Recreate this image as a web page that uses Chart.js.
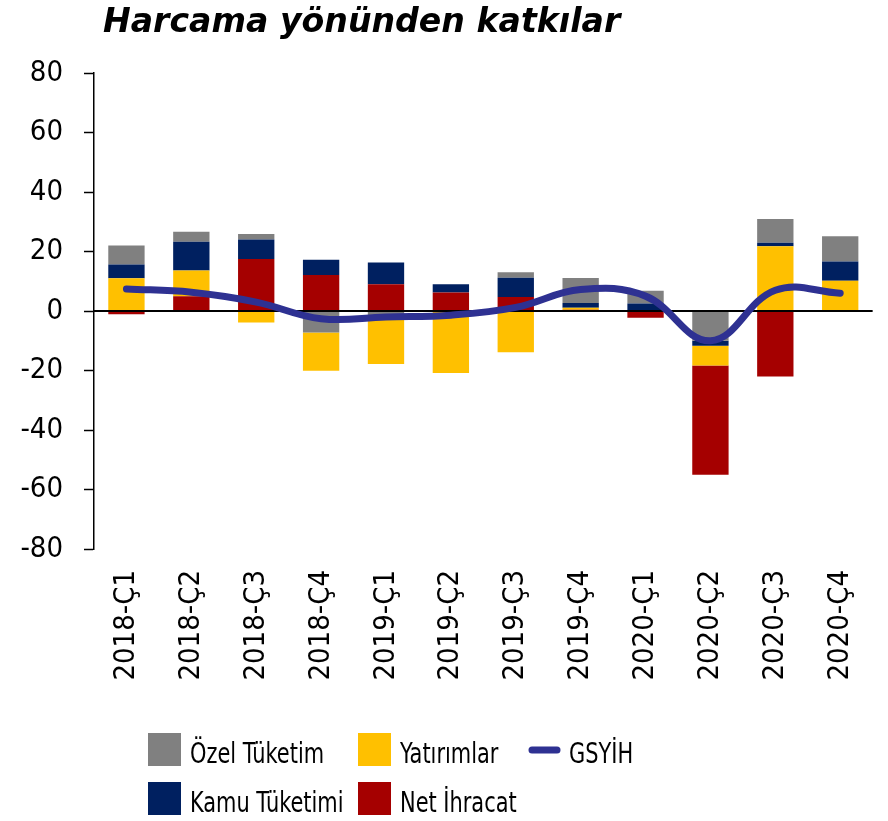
<!DOCTYPE html>
<html><head><meta charset="utf-8">
<script src="https://cdn.jsdelivr.net/npm/chart.js@4"></script>
<style>html,body{margin:0;padding:0;background:#fff;}canvas{display:block}</style>
</head><body>
<canvas id="c" width="888" height="821"></canvas>
<script>
const categories = ['2018-Ç1','2018-Ç2','2018-Ç3','2018-Ç4','2019-Ç1','2019-Ç2','2019-Ç3','2019-Ç4','2020-Ç1','2020-Ç2','2020-Ç3','2020-Ç4'];
const ozelTuketim = [6.4, 3.3, 1.9, -7.2, -3.0, 0, 1.8, 8.4, 4.3, -10.0, 8.0, 8.5];
const kamuTuketimi = [4.6, 9.7, 6.5, 5.1, 7.3, 2.8, 6.5, 1.6, 2.5, -1.7, 1.1, 6.4];
const yatirimlar = [11.0, 8.6, -3.9, -12.9, -14.8, -20.8, -13.9, 0.7, 0, -6.6, 21.8, 10.2];
const netIhracat = [-1.1, 5.0, 17.5, 12.1, 9.0, 6.2, 4.7, 0.4, -2.3, -36.7, -22.0, 0];
const gsyih = [7.4, 6.3, 3.0, -2.6, -2.0, -1.4, 1.2, 7.2, 5.0, -10.0, 7.0, 6.0];
const yTicks = [80, 60, 40, 20, 0, -20, -40, -60, -80];
const titleText = 'Harcama yönünden katkılar';
const names = {ozel:'Özel Tüketim', kamu:'Kamu Tüketimi', yat:'Yatırımlar', net:'Net İhracat', gdp:'GSYİH'};
const colors = {ozel:'#808080', kamu:'#002060', yat:'#FFC000', net:'#A50000', gdp:'#2E3192'};

const FONT = "'DejaVu Sans Condensed','DejaVu Sans',sans-serif";
const TITLE_FONT = "'DejaVu Sans',sans-serif";
const pos = a => a.map(v => v > 0 ? v : null);
const neg = a => a.map(v => v < 0 ? v : null);
const bar = (label, data, color, order) => ({type:'bar', label, data, backgroundColor: color, borderWidth: 0, stack: 'c', order, categoryPercentage: 1, barPercentage: 0.56});

const datasets = [
  bar(names.net, pos(netIhracat), colors.net, 1),
  bar(names.yat, pos(yatirimlar), colors.yat, 2),
  bar(names.kamu, pos(kamuTuketimi), colors.kamu, 3),
  bar(names.ozel, pos(ozelTuketim), colors.ozel, 4),
  bar(names.ozel, neg(ozelTuketim), colors.ozel, 5),
  bar(names.kamu, neg(kamuTuketimi), colors.kamu, 6),
  bar(names.yat, neg(yatirimlar), colors.yat, 7),
  bar(names.net, neg(netIhracat), colors.net, 8),
  {type:'line', label: names.gdp, data: gsyih, borderColor: colors.gdp, borderWidth: 7, pointRadius: 0, tension: 0.4, stack: 'gdp', order: 0, borderCapStyle: 'round', borderJoinStyle: 'round', fill: false}
];

const zeroLine = {
  id: 'zeroLine',
  beforeDatasetDraw(chart, args) {
    if (chart.data.datasets[args.index].type !== 'line') return;
    const y = chart.scales.y.getPixelForValue(0);
    const ctx = chart.ctx;
    ctx.save();
    ctx.strokeStyle = '#000'; ctx.lineWidth = 2;
    ctx.beginPath(); ctx.moveTo(chart.chartArea.left, y); ctx.lineTo(chart.chartArea.right, y); ctx.stroke();
    ctx.restore();
  }
};

const titleLegend = {
  id: 'titleLegend',
  afterDraw(chart) {
    const ctx = chart.ctx;
    ctx.save();
    ctx.fillStyle = '#000';
    ctx.font = "italic bold 34px " + TITLE_FONT;
    ctx.textBaseline = 'alphabetic'; ctx.textAlign = 'left';
    ctx.fillText(titleText, 103, 32, ctx.measureText(titleText).width * 0.975);
    const items = [
      {k:'ozel', x:148, y:733}, {k:'yat', x:358, y:733}, {k:'gdp', x:529, y:733},
      {k:'kamu', x:148, y:782}, {k:'net', x:358, y:782}
    ];
    ctx.font = "28px " + FONT;
    ctx.textBaseline = 'alphabetic';
    const draw = (t, x, y) => ctx.fillText(t, x, y, ctx.measureText(t).width * 0.83);
    for (const it of items) {
      if (it.k === 'gdp') {
        ctx.strokeStyle = colors.gdp; ctx.lineWidth = 7; ctx.lineCap = 'round';
        ctx.beginPath(); ctx.moveTo(it.x + 3, it.y + 17); ctx.lineTo(it.x + 28, it.y + 17); ctx.stroke();
        ctx.fillStyle = '#000';
        draw(names[it.k], it.x + 40, it.y + 30);
      } else {
        ctx.fillStyle = colors[it.k];
        ctx.fillRect(it.x, it.y, 33, 33);
        ctx.fillStyle = '#000';
        draw(names[it.k], it.x + 42, it.y + 30);
      }
    }
    ctx.restore();
  }
};

new Chart(document.getElementById('c'), {
  data: {labels: categories, datasets},
  options: {
    responsive: false, animation: false, devicePixelRatio: 1,
    layout: {padding: {top: 73, left: 0, right: 0, bottom: 0}},
    plugins: {legend: {display: false}, title: {display: false}, tooltip: {enabled: false}},
    scales: {
      x: {
        stacked: true,
        grid: {display: false}, border: {display: false},
        ticks: {color: '#000', font: {family: FONT, size: 29}, minRotation: 90, maxRotation: 90, padding: 13, autoSkip: false},
        afterFit(s) { s.height = 272; }
      },
      y: {
        stacked: true, min: -80, max: 80,
        afterBuildTicks(s) { s.ticks = yTicks.map(v => ({value: v})); },
        grid: {drawOnChartArea: false, drawTicks: true, tickLength: 10, tickColor: '#000', tickWidth: 1.5, color: '#000'},
        border: {display: true, color: '#000', width: 1.5},
        ticks: {color: '#000', font: {family: FONT, size: 29}, padding: 21},
        afterFit(s) { s.width = 94; }
      }
    }
  },
  plugins: [zeroLine, titleLegend]
});
</script>
</body></html>
